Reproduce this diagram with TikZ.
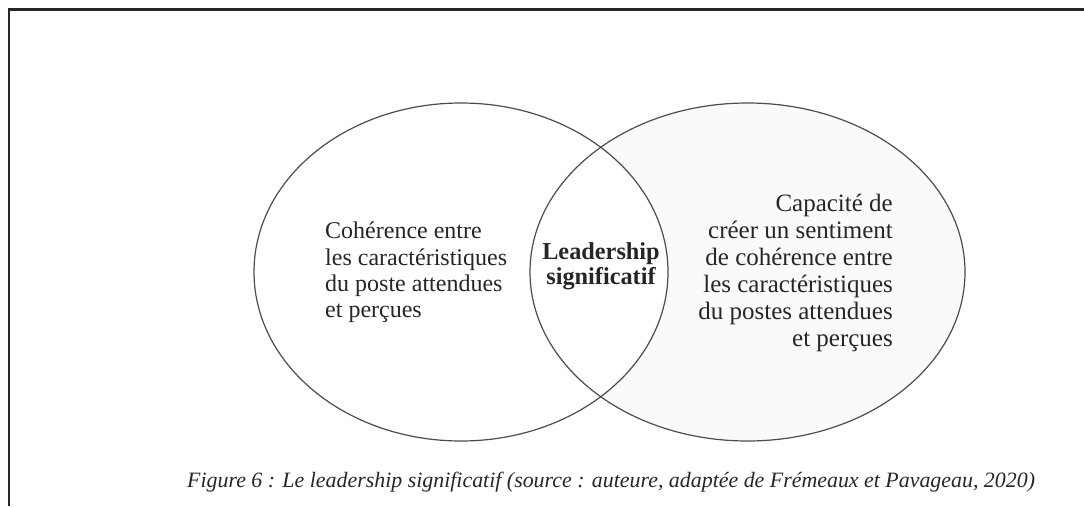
\documentclass[tikz,border=0pt]{standalone}
\usepackage{fontspec}
\setmainfont{Liberation Serif}
\usetikzlibrary{positioning,shapes}
\tikzstyle{cercle}=[ellipse, draw=black!70, line width=1.2pt, inner sep=0pt]
\tikzstyle{texte}=[inner sep=0pt, text=black!85]

\begin{document}
\begin{tikzpicture}[x=1pt,y=-1pt]
        \useasboundingbox (0,0) rectangle (1084,506);
        \draw[line width=2.2pt, black!85] (8.7,506) -- (8.7,9.5) -- (1084,9.5);

        % fonds
        \fill[black!2] (747.5,272) ellipse [x radius=217.5, y radius=169];
        \fill[white] (461,272) ellipse [x radius=207, y radius=169];

        \node[cercle, minimum width=414pt, minimum height=338pt] (gauche) at (461,272) {};
        \node[cercle, minimum width=435pt, minimum height=338pt] (droite) at (747.5,272) {};

        \node[texte, align=left, anchor=north west, font=\fontsize{24}{26.3}\selectfont] (txtg) at (325,222) {Cohérence entre\\les caractéristiques\\du poste attendues\\et perçues};
        \node[texte, align=right, anchor=north east, font=\fontsize{25}{27}\selectfont] (txtd) at (893,194) {Capacité de\\créer un sentiment\\de cohérence entre\\les caractéristiques\\du postes attendues\\et perçues};
        \node[texte, align=center, anchor=north, font=\fontsize{24.3}{25}\selectfont\bfseries] (centre) at (601,242) {Leadership\\significatif};

        \node[texte, anchor=base west, font=\fontsize{21.9}{24}\selectfont\itshape] (legende) at (187,487) {Figure 6 : Le leadership significatif (source : auteure, adaptée de Frémeaux et Pavageau, 2020)};
    \end{tikzpicture}
\end{document}
